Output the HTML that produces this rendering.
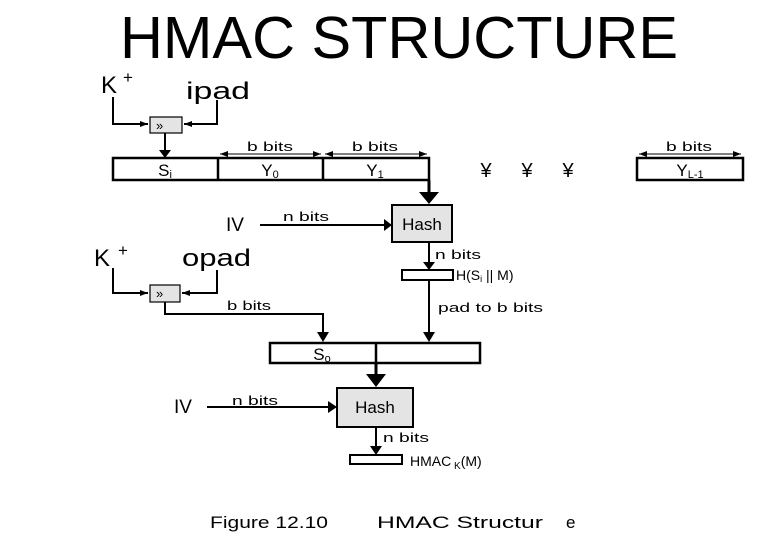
<!DOCTYPE html>
<html><head><meta charset="utf-8"><style>
html,body{margin:0;padding:0;background:#fff;}
svg{display:block;font-family:"Liberation Sans",Arial,sans-serif;}
</style></head><body>
<svg width="780" height="540" viewBox="0 0 780 540" xmlns="http://www.w3.org/2000/svg">
<defs>
<marker id="a" markerWidth="8" markerHeight="6" refX="8" refY="3" orient="auto" markerUnits="userSpaceOnUse"><path d="M0,0 L8,3 L0,6z" fill="#000"/></marker>
<marker id="b" markerWidth="8" markerHeight="6" refX="0" refY="3" orient="auto" markerUnits="userSpaceOnUse"><path d="M8,0 L0,3 L8,6z" fill="#000"/></marker>
</defs>
<text x="120" y="58" font-size="59" textLength="558" lengthAdjust="spacingAndGlyphs">HMAC STRUCTURE</text>

<g stroke="#000" fill="none" stroke-width="2">
<polyline points="113,97 113,124 148,124" marker-end="url(#a)"/>
<polyline points="217,100 217,124 184,124" marker-end="url(#a)"/>
<rect x="150" y="117" width="32" height="16" fill="#e4e4e4" stroke-width="1.2"/>
<line x1="165" y1="133" x2="165" y2="150"/>
<rect x="113" y="158" width="316" height="22" stroke-width="2.5"/>
<line x1="218" y1="158" x2="218" y2="180" stroke-width="2.5"/>
<line x1="323" y1="158" x2="323" y2="180" stroke-width="2.5"/>
<rect x="637" y="158" width="106" height="22" stroke-width="2.5"/>
<g stroke-width="1"><line x1="220" y1="154" x2="321" y2="154" marker-start="url(#b)" marker-end="url(#a)"/>
<line x1="325" y1="154" x2="427" y2="154" marker-start="url(#b)" marker-end="url(#a)"/>
<line x1="639" y1="154" x2="741" y2="154" marker-start="url(#b)" marker-end="url(#a)"/></g>
<line x1="429" y1="180" x2="429" y2="192" stroke-width="3"/>
<rect x="392" y="205" width="60" height="37" fill="#e4e4e4" stroke-width="2"/>
<line x1="260" y1="225" x2="384" y2="225"/>
<line x1="429" y1="242" x2="429" y2="262"/>
<rect x="402" y="270" width="51" height="10" stroke-width="2"/>
<line x1="429" y1="280" x2="429" y2="332"/>
<polyline points="113,268 113,293 148,293" marker-end="url(#a)"/>
<polyline points="217,270 217,293 182,293" marker-end="url(#a)"/>
<rect x="150" y="285" width="30" height="17" fill="#e4e4e4" stroke-width="1.2"/>
<polyline points="165,302 165,314 323,314 323,332"/>
<rect x="270" y="343" width="210" height="20" stroke-width="2.5"/>
<line x1="376" y1="343" x2="376" y2="363" stroke-width="2.5"/>
<line x1="376" y1="363" x2="376" y2="374" stroke-width="3"/>
<rect x="337" y="388" width="76" height="39" fill="#e4e4e4" stroke-width="2"/>
<line x1="207" y1="407" x2="328" y2="407"/>
<line x1="376" y1="427" x2="376" y2="446"/>
<rect x="350" y="455" width="52" height="9" stroke-width="2"/>
</g>
<g fill="#000">
<path d="M419,192 L439,192 L429,204z"/>
<path d="M384,219 L392,225 L384,231z"/>
<path d="M423,262 L435,262 L429,270z"/>
<path d="M423,332 L435,332 L429,342z"/>
<path d="M317,332 L329,332 L323,342z"/>
<path d="M366,374 L386,374 L376,387z"/>
<path d="M328,401 L337,407 L328,413z"/>
<path d="M370,446 L382,446 L376,455z"/>
<path d="M159,150 L171,150 L165,158z"/>
</g>
<g font-size="24"><text x="101" y="93">K</text><text x="123" y="83" font-size="17">+</text>
<text x="186" y="99" textLength="64" lengthAdjust="spacingAndGlyphs">ipad</text>
<text x="94" y="266">K</text><text x="118" y="256" font-size="17">+</text>
<text x="182" y="266" textLength="69" lengthAdjust="spacingAndGlyphs">opad</text></g>
<g font-size="13">
<text x="156" y="130">»</text><text x="156" y="298">»</text>
<text x="247" y="151" textLength="46" lengthAdjust="spacingAndGlyphs">b bits</text>
<text x="352" y="151" textLength="46" lengthAdjust="spacingAndGlyphs">b bits</text>
<text x="666" y="151" textLength="46" lengthAdjust="spacingAndGlyphs">b bits</text>
<text x="283" y="221" textLength="46" lengthAdjust="spacingAndGlyphs">n bits</text>
<text x="435" y="259" textLength="46" lengthAdjust="spacingAndGlyphs">n bits</text>
<text x="438" y="312" textLength="105" lengthAdjust="spacingAndGlyphs">pad to b bits</text>
<text x="227" y="310" textLength="44" lengthAdjust="spacingAndGlyphs">b bits</text>
<text x="232" y="405" textLength="46" lengthAdjust="spacingAndGlyphs">n bits</text>
<text x="383" y="442" textLength="46" lengthAdjust="spacingAndGlyphs">n bits</text>
<text x="456" y="280" font-size="14">H(S<tspan font-size="9" dy="2">i</tspan><tspan dy="-2"> || M)</tspan></text>
<text x="410" y="466" font-size="14">HMAC<tspan font-size="10" dy="3"> K</tspan><tspan dy="-3">(M)</tspan></text></g>
<g font-size="17" text-anchor="middle">
<text x="165" y="176">S<tspan font-size="11" dy="2">i</tspan></text>
<text x="270" y="176">Y<tspan font-size="11" dy="2">0</tspan></text>
<text x="375" y="176">Y<tspan font-size="11" dy="2">1</tspan></text>
<text x="690" y="176">Y<tspan font-size="11" dy="2">L-1</tspan></text>
<text x="422" y="230">Hash</text>
<text x="322" y="360">S<tspan font-size="11" dy="2">o</tspan></text>
<text x="375" y="413">Hash</text>
</g>
<g font-size="20" text-anchor="middle">
<text x="486" y="177">¥</text><text x="527" y="177">¥</text><text x="568" y="177">¥</text>
</g>
<g font-size="19"><text x="226" y="231">IV</text><text x="174" y="413">IV</text></g>
<g font-size="17">
<text x="210" y="528" textLength="118" lengthAdjust="spacingAndGlyphs">Figure 12.10</text>
<text x="377" y="528" textLength="166" lengthAdjust="spacingAndGlyphs">HMAC Structur</text>
<text x="566" y="528">e</text>
</g>
</svg>
</body></html>
